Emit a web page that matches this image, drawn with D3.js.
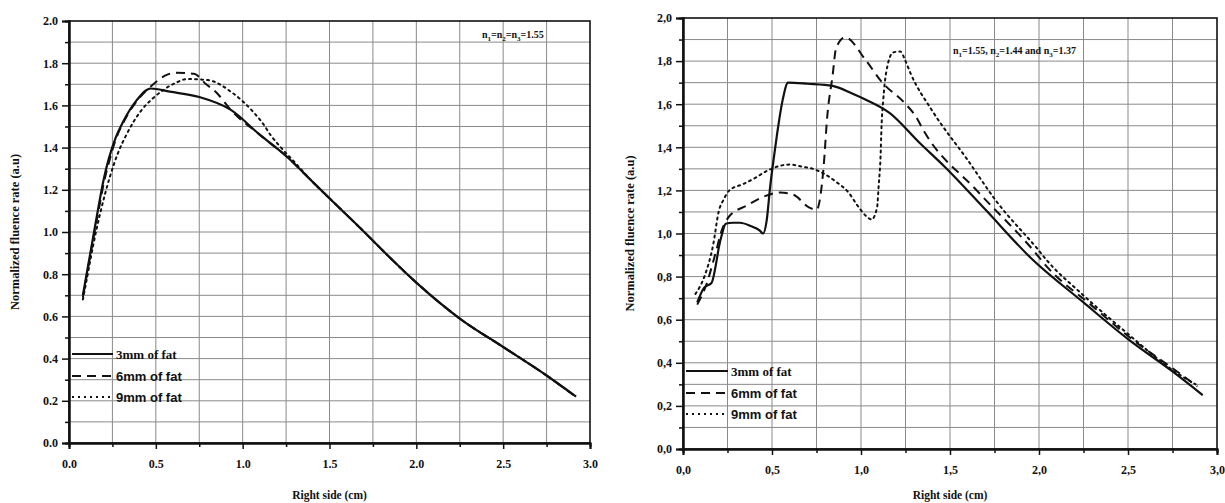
<!DOCTYPE html>
<html>
<head>
<meta charset="utf-8">
<script src="https://cdn.jsdelivr.net/npm/d3@7"></script>
<style>
  body { margin: 0; background: #fff; }
  svg text { font-family: "Liberation Serif", "Times New Roman", serif; font-weight: bold; fill: #111; }
</style>
</head>
<body>
<svg id="chart" width="1225" height="503"></svg>
<script>
// Left panel: n1 = n2 = n3 = 1.55
const left3mm = [[0.08,0.70],[0.11,0.84],[0.14,0.98],[0.17,1.12],[0.20,1.25],[0.23,1.35],[0.27,1.45],[0.31,1.52],[0.39,1.625],[0.47,1.68],[0.58,1.665],[0.75,1.64],[0.93,1.58],[1.10,1.46],[1.25,1.36],[1.40,1.24],[1.55,1.12],[1.70,1.0],[1.84,0.885],[2.0,0.76],[2.25,0.59],[2.5,0.455],[2.75,0.32],[2.92,0.22]];
const left6mm = [[0.08,0.69],[0.11,0.83],[0.14,0.97],[0.17,1.10],[0.20,1.23],[0.23,1.33],[0.27,1.44],[0.32,1.53],[0.40,1.63],[0.485,1.70],[0.55,1.74],[0.62,1.755],[0.72,1.75],[0.79,1.70],[0.85,1.66],[0.93,1.58],[1.10,1.46],[1.25,1.36],[1.40,1.24],[1.55,1.12],[1.70,1.0],[1.84,0.885],[2.0,0.76],[2.25,0.59],[2.5,0.455],[2.75,0.32],[2.9,0.23]];
const left9mm = [[0.08,0.68],[0.11,0.81],[0.14,0.94],[0.18,1.09],[0.235,1.26],[0.28,1.37],[0.33,1.46],[0.37,1.52],[0.42,1.58],[0.485,1.635],[0.61,1.705],[0.68,1.725],[0.80,1.72],[0.94,1.66],[1.0,1.62],[1.06,1.57],[1.12,1.51],[1.16,1.46],[1.21,1.41],[1.30,1.33],[1.40,1.24],[1.55,1.12],[1.70,1.0],[1.84,0.885],[2.0,0.76],[2.25,0.59],[2.5,0.455],[2.75,0.32],[2.9,0.23]];

// Right panel: n1 = 1.55, n2 = 1.44, n3 = 1.37
const right3mm = [[0.08,0.68],[0.12,0.75],[0.16,0.77],[0.19,0.88],[0.2,0.93],[0.22,1.0],[0.24,1.045],[0.28,1.05],[0.32,1.05],[0.38,1.035],[0.43,1.015],[0.45,1.0],[0.47,1.06],[0.49,1.22],[0.51,1.35],[0.53,1.47],[0.56,1.62],[0.59,1.70],[0.7,1.695],[0.84,1.685],[0.95,1.65],[1.03,1.62],[1.16,1.56],[1.33,1.42],[1.47,1.31],[1.7,1.11],[1.95,0.89],[2.25,0.68],[2.5,0.51],[2.75,0.36],[2.92,0.25]];
const right6mm = [[0.08,0.67],[0.13,0.76],[0.18,0.9],[0.22,1.02],[0.26,1.08],[0.36,1.13],[0.45,1.17],[0.545,1.19],[0.62,1.18],[0.71,1.12],[0.75,1.11],[0.79,1.31],[0.81,1.54],[0.84,1.73],[0.86,1.86],[0.91,1.91],[1.03,1.80],[1.12,1.70],[1.24,1.61],[1.31,1.54],[1.35,1.48],[1.65,1.20],[1.97,0.92],[2.04,0.85],[2.29,0.67],[2.53,0.505],[2.75,0.375],[2.89,0.29]];
const right9mm = [[0.07,0.72],[0.12,0.8],[0.17,0.95],[0.2,1.1],[0.23,1.16],[0.26,1.20],[0.34,1.23],[0.41,1.26],[0.47,1.29],[0.6,1.32],[0.67,1.31],[0.73,1.30],[0.86,1.24],[0.93,1.19],[0.98,1.13],[1.03,1.08],[1.06,1.065],[1.09,1.12],[1.10,1.23],[1.11,1.36],[1.115,1.49],[1.125,1.62],[1.14,1.74],[1.18,1.84],[1.22,1.845],[1.25,1.80],[1.28,1.74],[1.4,1.57],[1.6,1.34],[1.76,1.15],[1.99,0.93],[2.05,0.87],[2.24,0.72],[2.47,0.555],[2.78,0.35],[2.88,0.30]];

const seriesNames = ["3mm of fat", "6mm of fat", "9mm of fat"];
const xTicks = [0, 0.5, 1.0, 1.5, 2.0, 2.5, 3.0];
const yTicks = [0, 0.2, 0.4, 0.6, 0.8, 1.0, 1.2, 1.4, 1.6, 1.8, 2.0];

const dashes = [null, "9,6", "2,4"];
const legendFonts = ['"Liberation Serif", serif', '"Liberation Sans", Arial, sans-serif', '"Liberation Sans", Arial, sans-serif'];

const svg = d3.select("#chart");

function drawPanel(cfg) {
  const x = d3.scaleLinear().domain([0, 3]).range([cfg.x0, cfg.x1]);
  const y = d3.scaleLinear().domain([0, 2]).range([cfg.y0, cfg.y1]);
  const g = svg.append("g");

  // grid
  g.append("g").selectAll("line").data(d3.range(0.25, 3, 0.25)).join("line")
    .attr("x1", d => x(d)).attr("x2", d => x(d)).attr("y1", y(0)).attr("y2", y(2))
    .attr("stroke", "#8a8a8a").attr("stroke-width", 1);
  g.append("g").selectAll("line").data(d3.range(1, 20).map(i => i / 10)).join("line")
    .attr("x1", x(0)).attr("x2", x(3)).attr("y1", d => y(d)).attr("y2", d => y(d))
    .attr("stroke", "#8a8a8a").attr("stroke-width", 1);

  // frame
  g.append("rect").attr("x", x(0)).attr("y", y(2))
    .attr("width", x(3) - x(0)).attr("height", y(0) - y(2))
    .attr("fill", "none").attr("stroke", "#111").attr("stroke-width", 1.6);

  const fmt = d => d3.format(".1f")(d).replace(".", cfg.dec);

  // axes
  g.append("g").attr("transform", `translate(0,${y(0)})`)
    .call(d3.axisBottom(x).tickValues(xTicks).tickFormat(fmt).tickSize(6).tickPadding(10));
  g.append("g").attr("transform", `translate(0,${y(0)})`)
    .call(d3.axisBottom(x).tickValues(d3.range(0.25, 3, 0.5)).tickFormat("").tickSize(4));
  g.append("g").attr("transform", `translate(${x(0)},0)`)
    .call(d3.axisLeft(y).tickValues(yTicks).tickFormat(fmt).tickSize(7).tickPadding(4));
  g.append("g").attr("transform", `translate(${x(0)},0)`)
    .call(d3.axisLeft(y).tickValues(d3.range(1, 20, 2).map(i => i / 10)).tickFormat("").tickSize(4));
  g.selectAll(".domain").attr("stroke", "#111").attr("stroke-width", 2);
  g.selectAll(".tick line").attr("stroke", "#111").attr("stroke-width", 1.5);
  g.selectAll(".tick text").style("font-size", "12px").style("font-family", '"Liberation Serif", serif').style("font-weight", "bold");

  // titles
  g.append("text").attr("x", (x(0) + x(3)) / 2).attr("y", 499)
    .attr("text-anchor", "middle").style("font-size", "11.5px").text("Right side (cm)");
  g.append("text").attr("transform", `translate(${cfg.titleX},${(y(0) + y(2)) / 2}) rotate(-90)`)
    .attr("text-anchor", "middle").style("font-size", "12.5px").text("Normalized  fluence rate (a.u)");

  // curves
  const line = d3.line().x(d => x(d[0])).y(d => y(d[1])).curve(d3.curveMonotoneX);
  cfg.series.forEach((s, i) => {
    g.append("path").datum(s).attr("d", line)
      .attr("fill", "none").attr("stroke", "#111")
      .attr("stroke-width", i === 0 ? 2.2 : 2)
      .attr("stroke-dasharray", dashes[i])
      .attr("stroke-linecap", i === 2 ? "round" : "butt");
  });

  // legend
  cfg.legendY.forEach((ly, i) => {
    g.append("line").attr("x1", x(0) + 3).attr("x2", x(0) + cfg.legendLen).attr("y1", ly).attr("y2", ly)
      .attr("stroke", "#111").attr("stroke-width", i === 0 ? 2.2 : 2)
      .attr("stroke-dasharray", dashes[i]);
    g.append("text").attr("x", x(0) + cfg.legendLen + 3).attr("y", ly + 4.5)
      .style("font-size", "13px").style("font-family", legendFonts[i]).text(seriesNames[i]);
  });

  // annotation with subscripts
  const t = g.append("text").attr("x", cfg.noteX).attr("y", cfg.noteY).style("font-size", "10px");
  cfg.note.forEach(p => {
    if (p.sub) {
      t.append("tspan").attr("dy", 3).style("font-size", "7px").text(p.sub);
      t.append("tspan").attr("dy", -3).text(p.text);
    } else {
      t.append("tspan").text(p.text);
    }
  });
}

drawPanel({
  x0: 69, x1: 590, y0: 443, y1: 21, dec: ".", titleX: 19,
  series: [left3mm, left6mm, left9mm],
  legendY: [354, 376, 397], legendLen: 44,
  noteX: 482, noteY: 38,
  note: [{text: "n"}, {sub: "1", text: "=n"}, {sub: "2", text: "=n"}, {sub: "3", text: "=1.55"}]
});

drawPanel({
  x0: 683, x1: 1217, y0: 449, y1: 18, dec: ",", titleX: 634,
  series: [right3mm, right6mm, right9mm],
  legendY: [371, 393, 414], legendLen: 45,
  noteX: 953, noteY: 54,
  note: [{text: "n"}, {sub: "1", text: "=1.55, n"}, {sub: "2", text: "=1.44 and n"}, {sub: "3", text: "=1.37"}]
});
</script>
</body>
</html>
